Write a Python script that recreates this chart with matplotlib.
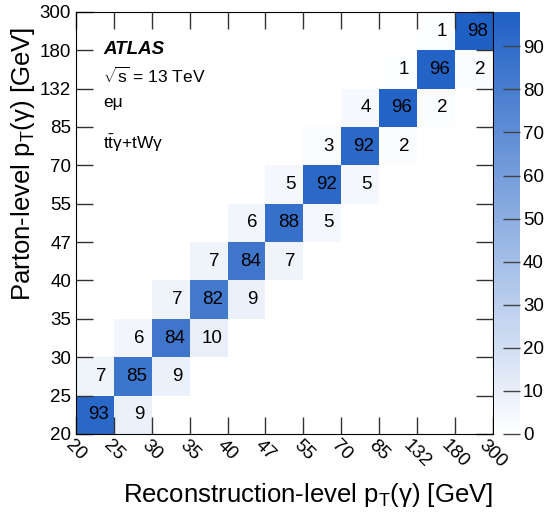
import matplotlib.pyplot as plt
import numpy as np
from matplotlib.colors import LinearSegmentedColormap

plt.rcParams['font.family'] = ['Liberation Sans', 'DejaVu Sans']
plt.rcParams['mathtext.fontset'] = 'custom'
plt.rcParams['mathtext.rm'] = 'Liberation Sans'
plt.rcParams['mathtext.it'] = 'Liberation Sans:italic'

edges = ['20', '25', '30', '35', '40', '47', '55', '70', '85', '132', '180', '300']

# rows = parton-level bin, columns = reconstruction-level bin (0 = empty)
matrix = np.array([
    [93, 9, 0, 0, 0, 0, 0, 0, 0, 0, 0],
    [7, 85, 9, 0, 0, 0, 0, 0, 0, 0, 0],
    [0, 6, 84, 10, 0, 0, 0, 0, 0, 0, 0],
    [0, 0, 7, 82, 9, 0, 0, 0, 0, 0, 0],
    [0, 0, 0, 7, 84, 7, 0, 0, 0, 0, 0],
    [0, 0, 0, 0, 6, 88, 5, 0, 0, 0, 0],
    [0, 0, 0, 0, 0, 5, 92, 5, 0, 0, 0],
    [0, 0, 0, 0, 0, 0, 3, 92, 2, 0, 0],
    [0, 0, 0, 0, 0, 0, 0, 4, 96, 2, 0],
    [0, 0, 0, 0, 0, 0, 0, 0, 1, 96, 2],
    [0, 0, 0, 0, 0, 0, 0, 0, 0, 1, 98],
])

cmap = LinearSegmentedColormap.from_list('atl', ['#ffffff', '#1f60c4'])

fig = plt.figure(figsize=(5.47, 5.16), dpi=100)
ax = fig.add_axes([0.139, 0.159, 0.762, 0.818])
cax = fig.add_axes([0.903, 0.159, 0.048, 0.818])

n = len(edges) - 1
masked = np.ma.masked_equal(matrix, 0)
mesh = ax.pcolormesh(np.arange(n + 1), np.arange(n + 1), masked, cmap=cmap,
                     vmin=0, vmax=matrix.max())

for i in range(n):
    for j in range(n):
        v = matrix[i, j]
        if v > 0:
            off = 0.66 if v < 10 else 0.60
            ax.text(j + off, i + 0.5, str(v), ha='center', va='center',
                    fontsize=13.5)

ax.set_xlim(0, n)
ax.set_ylim(0, n)
ax.set_xticks(np.arange(n + 1))
ax.set_yticks(np.arange(n + 1))
ax.set_xticklabels(edges, rotation=-45, ha='center', fontsize=13.5)
ax.set_yticklabels(edges, fontsize=13.5)
ax.tick_params(direction='in', length=12, width=1, top=True, right=True,
               color='#333333')
ax.tick_params(axis='x', pad=2)
ax.set_xlabel(r'Reconstruction-level $\mathrm{p_{T}}$(γ) [GeV]', fontsize=18.5)
ax.set_ylabel(r'Parton-level $\mathrm{p_{T}}$(γ) [GeV]', fontsize=18.5)
ax.xaxis.set_label_coords(1.0, -0.112)
ax.xaxis.label.set_ha('right')
ax.yaxis.set_label_coords(-0.093, 0.965)
ax.yaxis.label.set_ha('right')

ax.text(0.065, 0.900, 'ATLAS', transform=ax.transAxes, fontsize=13.5,
        fontweight='bold', fontstyle='italic', va='baseline')
ax.text(0.065, 0.832, r'$\sqrt{\mathrm{s}}$ = 13 TeV', transform=ax.transAxes,
        fontsize=12.5, va='baseline')
ax.text(0.065, 0.774, 'eμ', transform=ax.transAxes, fontsize=12.5,
        va='baseline')
ax.text(0.065, 0.676, r'$\mathrm{t\bar{t}}$γ+tWγ', transform=ax.transAxes,
        fontsize=12.5, va='baseline')

cb = fig.colorbar(mesh, cax=cax)
cb.outline.set_visible(False)
cb.set_ticks(np.arange(0, 100, 10))
cax.tick_params(direction='in', length=12, width=1, labelsize=13.5, pad=2,
                color='#444444')

fig.savefig('out.png', dpi=100)
